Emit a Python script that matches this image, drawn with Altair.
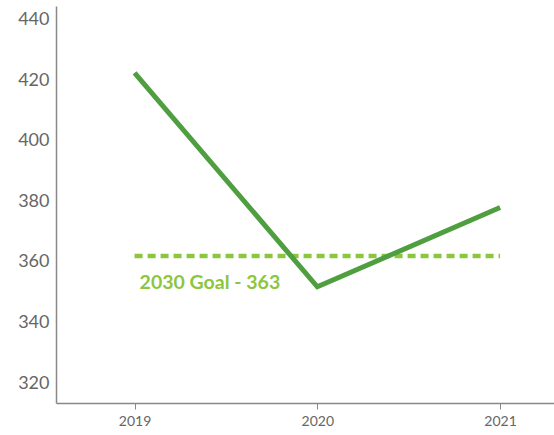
import altair as alt
import pandas as pd

years = [2019, 2020, 2021]
values = [422.5, 351.8, 378.0]
goal_value = 362
goal_label = "2030 Goal - 363"
y_ticks = [320, 340, 360, 380, 400, 420, 440]

df = pd.DataFrame({"year": years, "value": values})
goal_df = pd.DataFrame({"x": [years[0]], "x2": [years[-1]], "y": [goal_value], "label": [goal_label]})

xscale = alt.Scale(domain=[2018.57, 2021.295], nice=False, zero=False)
yscale = alt.Scale(domain=[313.4, 444.6], nice=False, zero=False)

xaxis = alt.Axis(values=years, format="d", title=None, grid=False, domainColor="#888888",
                 tickColor="#888888", tickSize=6, labelColor="#666666", labelFontSize=14,
                 labelFont="Lato", labelPadding=5, domainWidth=1.5)
yaxis = alt.Axis(values=y_ticks, title=None, grid=False, ticks=False, domainColor="#888888",
                 labelColor="#666666", labelFontSize=18, labelFont="Lato", labelPadding=7,
                 domainWidth=1.5)

line = alt.Chart(df).mark_line(color="#4f9e3f", strokeWidth=5, strokeJoin="miter").encode(
    x=alt.X("year:Q", scale=xscale, axis=xaxis),
    y=alt.Y("value:Q", scale=yscale, axis=yaxis),
)

goal = alt.Chart(goal_df).mark_rule(color="#8cc63f", strokeWidth=4.5, strokeDash=[8, 5]).encode(
    x=alt.X("x:Q", scale=xscale),
    x2="x2:Q",
    y=alt.Y("y:Q", scale=yscale),
)

label = alt.Chart(goal_df).mark_text(color="#8cc63f", fontSize=19.5, fontWeight="bold", font="Lato",
                                     align="left", baseline="middle", dx=5, dy=27).encode(
    x=alt.X("x:Q", scale=xscale),
    y=alt.Y("y:Q", scale=yscale),
    text="label:N",
)

chart = alt.layer(goal, line, label).properties(
    width=498, height=397,
    autosize=alt.AutoSizeParams(type="none"),
    padding={"left": 56, "top": 6, "right": 0, "bottom": 32},
).configure_view(stroke=None)

chart.save("out.html", embed_options={"renderer": "svg", "actions": False})
